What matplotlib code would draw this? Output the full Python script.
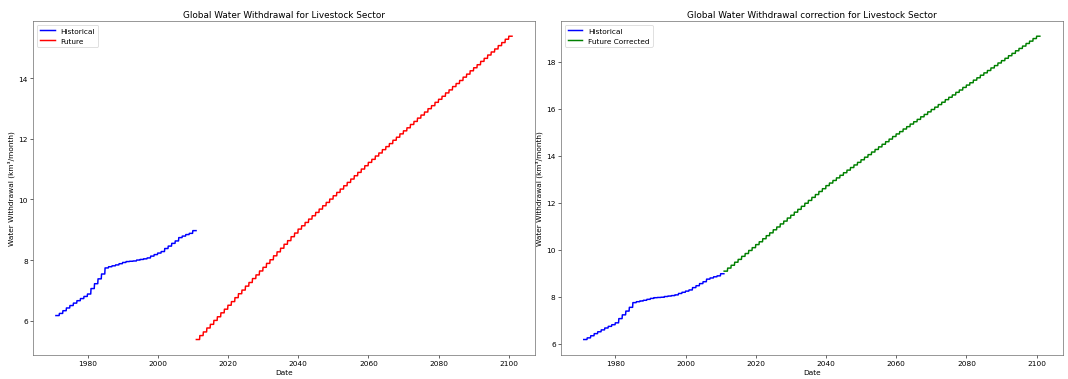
#!/usr/bin/env python3
import numpy as np
import pandas as pd
import matplotlib
matplotlib.use('Agg')
import matplotlib.pyplot as plt

# Annual values (km3/month), held constant over the 12 months of each year
hist_years = np.arange(1971, 2011)
hist_values = [6.17, 6.24, 6.33, 6.42, 6.50, 6.58, 6.66, 6.73, 6.80, 6.88,
               7.06, 7.22, 7.38, 7.54, 7.74, 7.78, 7.81, 7.84, 7.88, 7.92,
               7.95, 7.96, 7.97, 8.00, 8.02, 8.04, 8.07, 8.13, 8.18, 8.23,
               8.28, 8.38, 8.46, 8.55, 8.63, 8.74, 8.79, 8.84, 8.88, 8.97]

fut_years = np.arange(2011, 2101)
future_values = [5.38, 5.51, 5.63, 5.76, 5.88, 6.01, 6.13, 6.26, 6.38, 6.51,
                 6.63, 6.76, 6.89, 7.01, 7.14, 7.26, 7.39, 7.51, 7.64, 7.76,
                 7.89, 8.01, 8.14, 8.27, 8.39, 8.52, 8.64, 8.77, 8.89, 9.02,
                 9.13, 9.24, 9.35, 9.46, 9.57, 9.68, 9.79, 9.90, 10.01, 10.12,
                 10.23, 10.34, 10.45, 10.56, 10.67, 10.78, 10.89, 11.00, 11.11, 11.22,
                 11.32, 11.43, 11.53, 11.64, 11.74, 11.84, 11.95, 12.05, 12.16, 12.26,
                 12.36, 12.47, 12.57, 12.68, 12.78, 12.88, 12.99, 13.09, 13.20, 13.30,
                 13.40, 13.51, 13.61, 13.72, 13.82, 13.92, 14.03, 14.13, 14.24, 14.34,
                 14.44, 14.55, 14.65, 14.76, 14.86, 14.96, 15.07, 15.17, 15.28, 15.38]

corrected_values = [9.08, 9.21, 9.33, 9.46, 9.58, 9.71, 9.83, 9.96, 10.08, 10.21,
                    10.33, 10.46, 10.59, 10.71, 10.84, 10.96, 11.09, 11.21, 11.34, 11.46,
                    11.59, 11.71, 11.84, 11.97, 12.09, 12.22, 12.34, 12.47, 12.59, 12.72,
                    12.83, 12.94, 13.05, 13.16, 13.27, 13.38, 13.49, 13.60, 13.71, 13.82,
                    13.93, 14.04, 14.15, 14.26, 14.37, 14.48, 14.59, 14.70, 14.81, 14.92,
                    15.02, 15.13, 15.23, 15.34, 15.44, 15.54, 15.65, 15.75, 15.86, 15.96,
                    16.06, 16.17, 16.27, 16.38, 16.48, 16.58, 16.69, 16.79, 16.90, 17.00,
                    17.10, 17.21, 17.31, 17.42, 17.52, 17.62, 17.73, 17.83, 17.94, 18.04,
                    18.14, 18.25, 18.35, 18.46, 18.56, 18.66, 18.77, 18.87, 18.98, 19.08]


def monthly(years, values):
    dates = pd.date_range(f'{years[0]}-01-01', f'{years[-1]}-12-01', freq='MS')
    return dates, np.repeat(values, 12)


hist_dates, hist_monthly = monthly(hist_years, hist_values)
fut_dates, fut_monthly = monthly(fut_years, future_values)
_, corr_monthly = monthly(fut_years, corrected_values)

fig, (ax1, ax2) = plt.subplots(1, 2, figsize=(20, 7.116), dpi=53.4)
fig.subplots_adjust(left=0.031, right=0.995, top=0.942, bottom=0.064, wspace=0.052)

lw = 2
ax1.plot(hist_dates, hist_monthly, color='blue', lw=lw, label='Historical')
ax1.plot(fut_dates, fut_monthly, color='red', lw=lw, label='Future')
ax1.set_title('Global Water Withdrawal for Livestock Sector')
ax1.set_xlabel('Date')
ax1.set_ylabel('Water Withdrawal (km³/month)')
ax1.legend(loc='upper left')

ax2.plot(hist_dates, hist_monthly, color='blue', lw=lw, label='Historical')
ax2.plot(fut_dates, corr_monthly, color='green', lw=lw, label='Future Corrected')
ax2.set_title('Global Water Withdrawal correction for Livestock Sector')
ax2.set_xlabel('Date')
ax2.set_ylabel('Water Withdrawal (km³/month)')
ax2.legend(loc='upper left')

for ax in (ax1, ax2):
    for spine in ax.spines.values():
        spine.set_edgecolor('#555555')

fig.savefig('out.png', dpi=53.4)
